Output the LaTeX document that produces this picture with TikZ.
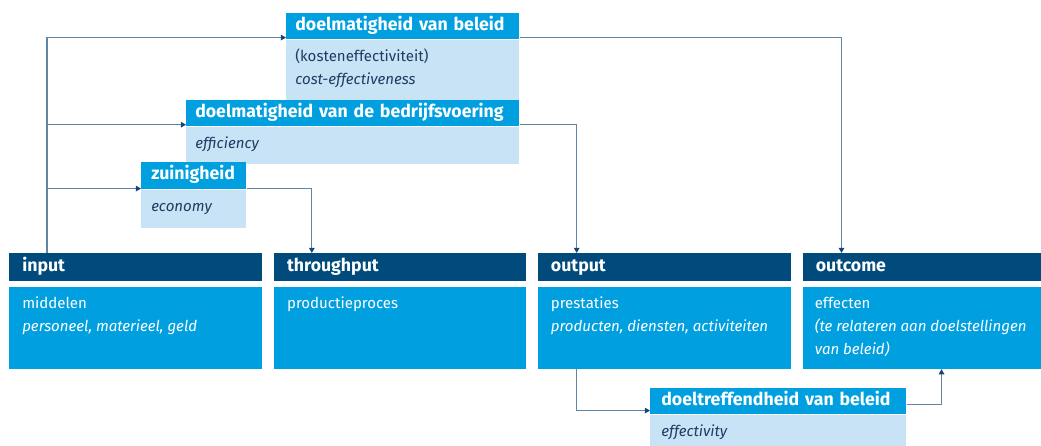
\documentclass[tikz,border=0pt]{standalone}
\usepackage{fontspec}
\setmainfont{Fira Sans}
\usetikzlibrary{arrows.meta}
\usetikzlibrary{positioning}

\definecolor{navy}{RGB}{0,75,124}
\definecolor{cyanblue}{RGB}{0,160,224}
\definecolor{paleblue}{RGB}{200,227,246}
\definecolor{inktext}{RGB}{30,60,100}
\definecolor{linecol}{RGB}{95,135,165}
\definecolor{tipcol}{RGB}{20,70,120}

% body text: width, height, indent, lines
\newcommand{\boxtext}[4]{\parbox[c][#2][t]{#1}{\leftskip=#3\rule{0pt}{15.2pt}#4}}

\tikzset{
    darkhead/.style={fill=navy, text=white, font=\bfseries\fontsize{12.6}{14}\selectfont, inner xsep=0.325cm, inner ysep=0pt, minimum height=0.7cm, align=left, text height=0.75em, text depth=0.2em, anchor=north west},
    lighthead/.style={darkhead, fill=cyanblue, inner xsep=0.225cm, minimum height=0.65cm},
    brightbody/.style={fill=cyanblue, text=white, font=\fontsize{10.7}{16.6}\selectfont, inner sep=0pt},
    palebody/.style={brightbody, fill=paleblue, text=inktext},
    link/.style={draw=linecol, line width=0.8pt, -{Triangle[length=1.3mm, width=1.4mm, color=tipcol]}}
}

\begin{document}
\begin{tikzpicture}[x=0.025cm, y=-0.025cm]
    \useasboundingbox (0,0) rectangle (1041,446);

    % top boxes
    \node[lighthead, text width=5.375cm] (b1head) at (286,13) {doelmatigheid van beleid};
    \node[palebody, below=0pt of b1head] (b1body) {\boxtext{5.825cm}{1.5cm}{0.225cm}{(kosteneffectiviteit)\\\textit{cost-effectiveness}}};

    \node[lighthead, text width=7.875cm, anchor=north east] (b2head) at (b1body.south east) {doelmatigheid van de bedrijfsvoering};
    \node[palebody, below=0pt of b2head] (b2body) {\boxtext{8.325cm}{0.925cm}{0.225cm}{\textit{efficiency}}};

    \node[lighthead, text width=2.125cm, inner xsep=0.25cm, minimum height=0.675cm] (zuinhead) at (141,162) {zuinigheid};
    \node[palebody, below=0pt of zuinhead] (zuinbody) {\boxtext{2.625cm}{0.95cm}{0.25cm}{\textit{economy}}};

    % bottom row
    \node[darkhead, text width=5.675cm] (inhead) at (9,253) {input};
    \node[darkhead, text width=5.65cm, right=0.28cm of inhead] (thrhead) {throughput};
    \node[darkhead, text width=5.675cm, right=0.28cm of thrhead] (outhead) {output};
    \node[darkhead, text width=5.35cm, right=0.28cm of outhead] (outchead) {outcome};

    \node[brightbody, below=0.125cm of inhead] (inbody) {\boxtext{6.325cm}{2.05cm}{0.325cm}{middelen\\\textit{personeel, materieel, geld}}};
    \node[brightbody, below=0.125cm of thrhead] (thrbody) {\boxtext{6.3cm}{2.05cm}{0.325cm}{productieproces}};
    \node[brightbody, below=0.125cm of outhead] (outbody) {\boxtext{6.325cm}{2.05cm}{0.325cm}{prestaties\\\textit{producten, diensten, activiteiten}}};
    \node[brightbody, below=0.125cm of outchead] (outcbody) {\boxtext{6cm}{2.05cm}{0.3cm}{effecten\\\textit{(te relateren aan doelstellingen}\\\textit{van beleid)}}};

    \node[lighthead, text width=5.85cm, inner xsep=0.275cm] (dtrhead) at (650,388) {doeltreffendheid van beleid};
    \node[palebody, below=0pt of dtrhead] (dtrbody) {\boxtext{6.4cm}{0.8cm}{0.275cm}{\textit{effectivity}}};

    % connectors
    \coordinate (trunk) at ([xshift=0.95cm]inhead.north west);
    \draw[link] (trunk) |- ([yshift=0.05cm]b1head.south west);
    \draw[link] (trunk) |- ([yshift=0.05cm]b2head.south west);
    \draw[link] (trunk) |- ([yshift=0.025cm]zuinhead.south west);

    \draw[link] ([yshift=0.025cm]zuinhead.south east) -| ([xshift=0.95cm]thrhead.north west);
    \draw[link] ([yshift=0.05cm]b2head.south east) -| ([xshift=0.975cm]outhead.north west);
    \draw[link] ([yshift=0.05cm]b1head.south east) -| ([xshift=0.975cm]outchead.north west);

    \draw[link] ([xshift=0.975cm]outbody.south west) |- ([yshift=0.1cm]dtrhead.south west);
    \draw[link] ([yshift=0.25cm]dtrhead.south east) -| ([xshift=3.475cm]outcbody.south west);
\end{tikzpicture}
\end{document}
